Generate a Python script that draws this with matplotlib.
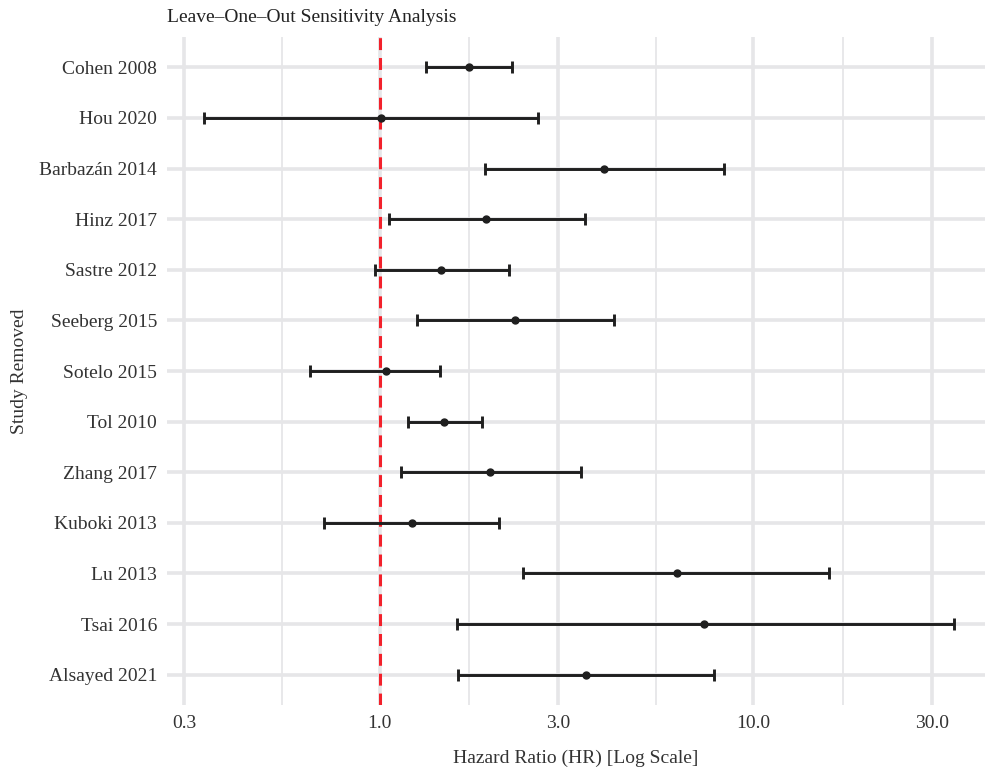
import matplotlib
matplotlib.use('Agg')
import matplotlib.pyplot as plt
import numpy as np
from matplotlib.ticker import FixedLocator, NullFormatter

# Leave-one-out results (study removed, pooled HR and 95% CI)
studies = ['Cohen 2008', 'Hou 2020', 'Barbazán 2014', 'Hinz 2017', 'Sastre 2012',
           'Seeberg 2015', 'Sotelo 2015', 'Tol 2010', 'Zhang 2017', 'Kuboki 2013',
           'Lu 2013', 'Tsai 2016', 'Alsayed 2021']
hr = [1.74, 1.01, 3.98, 1.93, 1.46, 2.30, 1.04, 1.49, 1.98, 1.22, 6.23, 7.40, 3.56]
ci_low = [1.33, 0.34, 1.92, 1.06, 0.97, 1.26, 0.65, 1.19, 1.14, 0.71, 2.42, 1.61, 1.62]
ci_high = [2.26, 2.65, 8.32, 3.54, 2.22, 4.23, 1.45, 1.88, 3.46, 2.09, 15.9, 34.4, 7.87]

x_breaks = [0.3, 1.0, 3.0, 10.0, 30.0]
x_labels = ['0.3', '1.0', '3.0', '10.0', '30.0']

plt.rcParams['font.family'] = ['Liberation Serif', 'DejaVu Serif']
text_col = '#333333'
grid_col = '#E6E6E8'

fig = plt.figure(figsize=(9.85, 7.71), dpi=100)
ax = fig.add_axes([0.1695, 0.0856, 0.8305, 0.8664])

hr_a = np.array(hr)
lo_a = np.array(ci_low)
hi_a = np.array(ci_high)
y = np.arange(len(studies))

ax.axvline(1.0, color='#F2212B', lw=2.2, linestyle=(0, (3.9, 2.6)), zorder=2)
ax.errorbar(hr_a, y, xerr=[hr_a - lo_a, hi_a - hr_a], fmt='o', color='#1f1f1f',
            ecolor='#1f1f1f', elinewidth=2.1, capsize=4.5, capthick=2.1,
            markersize=5, zorder=3)

ax.set_xscale('log')
# expansion in log space, panel runs off the right edge a little
llo, lhi = np.log10(lo_a.min()), np.log10(hi_a.max())
ax.set_xlim(10 ** (llo - 0.10), 10 ** (lhi + 0.083))
ax.set_ylim(len(studies) - 0.4, -0.6)

ax.xaxis.set_major_locator(FixedLocator(x_breaks))
ax.set_xticklabels(x_labels)
lb = np.log10(x_breaks)
ax.xaxis.set_minor_locator(FixedLocator(10 ** ((lb[:-1] + lb[1:]) / 2)))
ax.xaxis.set_minor_formatter(NullFormatter())

ax.set_yticks(y)
ax.set_yticklabels(studies)

ax.grid(True, which='major', axis='both', color=grid_col, lw=2.6, zorder=0)
ax.grid(True, which='minor', axis='x', color=grid_col, lw=1.3, zorder=0)
ax.set_axisbelow(True)

for s in ax.spines.values():
    s.set_visible(False)
ax.tick_params(axis='both', which='both', length=0, labelsize=14, labelcolor=text_col)
ax.tick_params(axis='y', pad=7)
ax.tick_params(axis='x', pad=7)

ax.set_xlabel('Hazard Ratio (HR) [Log Scale]', fontsize=14, color=text_col, labelpad=13)
ax.set_ylabel('Study Removed', fontsize=14, color=text_col, labelpad=8)
ax.set_title('Leave\u2013One\u2013Out Sensitivity Analysis', loc='left', fontsize=14,
             color='#222222', pad=11)

fig.savefig('out.png', dpi=100)
